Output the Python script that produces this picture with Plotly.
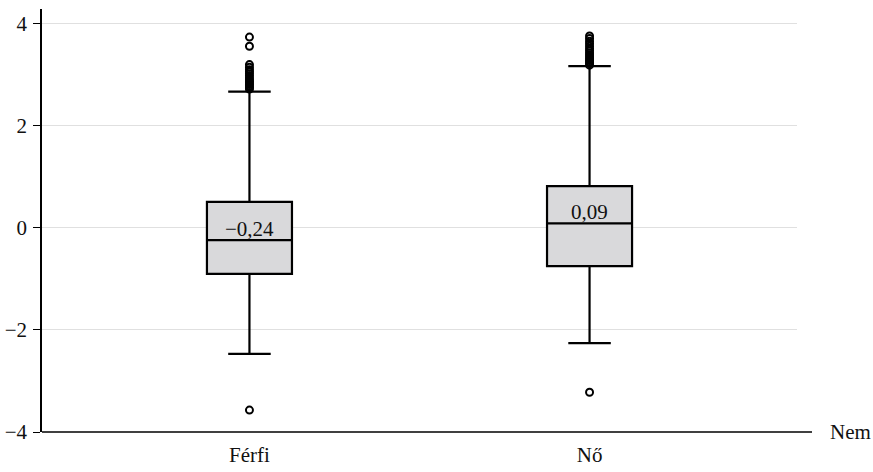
import plotly.graph_objects as go

categories = ["Férfi", "Nő"]
q1 = [-0.90, -0.75]
medians = [-0.24, 0.09]
q3 = [0.51, 0.82]
lower_whisker = [-2.47, -2.26]
upper_whisker = [2.67, 3.17]
median_labels = ["−0,24", "0,09"]

outliers_ferfi = [3.74, 3.56, 3.20, 3.15, 3.10, 3.06, 3.02, 2.98, 2.94, 2.90,
                  2.87, 2.84, 2.81, 2.78, 2.75, 2.72, -3.57]
outliers_no = [3.76, 3.71, 3.66, 3.61, 3.56, 3.51, 3.47, 3.43, 3.39, 3.35,
               3.31, 3.28, 3.25, 3.22, 3.19, -3.22]

y_ticks = [-4, -2, 0, 2, 4]
y_tick_text = ["−4", "−2", "0", "2", "4"]

FONT = "Liberation Serif, Times New Roman, serif"
FS = 21

fig = go.Figure()
fig.add_trace(go.Box(
    x=categories,
    q1=q1, median=medians, q3=q3,
    lowerfence=lower_whisker, upperfence=upper_whisker,
    boxpoints=False,
    fillcolor="#d9d9db",
    line=dict(color="black", width=2.2),
    width=0.25,
    whiskerwidth=0.5,
    showlegend=False,
    hoverinfo="skip",
))

for cat, vals in zip(categories, [outliers_ferfi, outliers_no]):
    fig.add_trace(go.Scatter(
        x=[cat] * len(vals), y=vals, mode="markers",
        marker=dict(symbol="circle-open", size=7, color="black",
                    line=dict(width=2, color="black")),
        showlegend=False, hoverinfo="skip",
    ))

for cat, med, lab in zip(categories, medians, median_labels):
    fig.add_annotation(x=cat, y=med, text=lab, showarrow=False,
                       xanchor="center", yanchor="bottom", yshift=-3,
                       font=dict(family=FONT, size=FS, color="#111"))

fig.add_annotation(x=1.041, y=0, xref="paper", yref="paper", text="Nem",
                   showarrow=False, xanchor="left", yanchor="middle",
                   font=dict(family=FONT, size=FS, color="#111"))

# x axis line extending beyond plot area
fig.add_shape(type="line", xref="paper", yref="paper", x0=0, x1=1.0199,
              y0=0, y1=0, line=dict(color="black", width=1.5))

fig.update_layout(
    width=873, height=472,
    margin=dict(l=42, r=76, t=9, b=40, autoexpand=False),
    plot_bgcolor="white", paper_bgcolor="white",
    font=dict(family=FONT, size=FS, color="#111"),
    xaxis=dict(
        type="category",
        range=[-0.61, 1.61],
        automargin=False,
        showgrid=False, zeroline=False, showline=False,
        ticks="", ticklabelstandoff=8,
        tickfont=dict(family=FONT, size=FS, color="#111"),
    ),
    yaxis=dict(
        range=[-4, 4.29],
        automargin=False,
        tickvals=y_ticks, ticktext=y_tick_text,
        showgrid=True, gridcolor="#e0e0e0", gridwidth=1,
        zeroline=False,
        showline=True, linecolor="black", linewidth=1.5,
        ticks="outside", ticklen=7, tickcolor="black", tickwidth=1,
        ticklabelstandoff=2,
        tickfont=dict(family=FONT, size=FS, color="#111"),
    ),
)

fig.write_html("out.html")
